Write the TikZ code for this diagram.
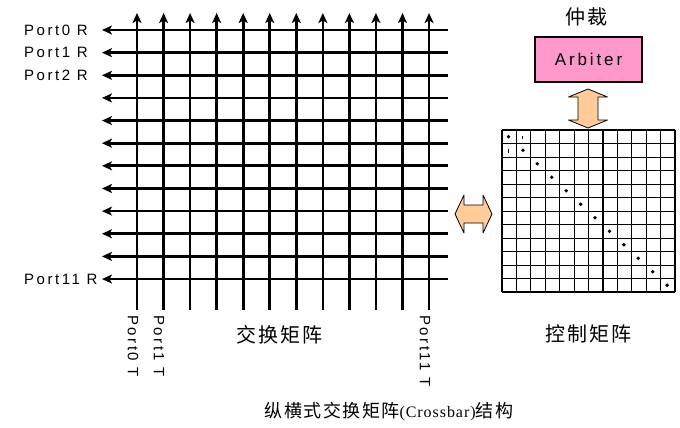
\documentclass[tikz,border=0pt]{standalone}
\usepackage{fontspec}
\setmainfont{Liberation Sans}
\newfontfamily\portfont{Liberation Sans}[LetterSpace=17]
\newfontfamily\cjkwide{Noto Sans CJK SC}[LetterSpace=10]
\newfontfamily\cjkfont{Noto Sans CJK SC}[LetterSpace=8]
\newfontfamily\capfont{Liberation Serif}[LetterSpace=6]
\usepackage{tikz}
\usetikzlibrary{arrows.meta,calc}
\definecolor{ArbiterPink}{RGB}{255,153,204}
\definecolor{LinkPeach} {RGB}{255,204,153}

\begin{document}
\begin{tikzpicture}[x=1pt,y=-1pt,
    bus/.style={line width=2.7pt, -{Stealth[length=10pt,width=9pt,inset=2.5pt]}},
    portlbl/.style={font=\portfont\fontsize{15}{18}\selectfont, inner sep=0pt},
    cjklbl/.style={font=\cjkwide\fontsize{20}{23}\selectfont, inner sep=0pt},
    link/.style={fill=LinkPeach, draw=black, line width=0.8pt, line join=round}]
  \useasboundingbox (0,0) rectangle (680,428);

  % Crossbar rows (receive side)
  \foreach \i in {0,...,11} {
    \coordinate (rE\i) at (448, 30+\i*22.64);
    \coordinate (rW\i) at (102, 30+\i*22.64);
    \draw[bus] (rE\i) -- (rW\i);
  }
  % Crossbar columns (transmit side)
  \foreach \j in {0,...,11} {
    \coordinate (cS\j) at (137+\j*26.55, 310);
    \coordinate (cN\j) at (137+\j*26.55, 13);
    \draw[bus] (cS\j) -- (cN\j);
  }

  % Port labels
  \node[portlbl, anchor=west] (p0r)  at (24, 30)  {Port0 R};
  \node[portlbl, anchor=west] (p1r)  at (24, 52.6) {Port1 R};
  \node[portlbl, anchor=west] (p2r)  at (24, 75.3) {Port2 R};
  \node[portlbl, anchor=west] (p11r) at (24, 279) {Port11 R};
  \node[portlbl, rotate=-90, anchor=west] (p0t)  at (133, 315) {Port0 T};
  \node[portlbl, rotate=-90, anchor=west] (p1t)  at (159, 315) {Port1 T};
  \node[portlbl, rotate=-90, anchor=west] (p11t) at (425, 315) {Port11 T};
  \node[cjklbl] (xbarlbl) at (279, 335) {交换矩阵};

  % Arbiter
  \node[cjklbl] (arblbl) at (586, 17) {仲裁};
  \node[draw, fill=ArbiterPink, line width=1.2pt, minimum width=107pt,
        minimum height=45pt, font=\portfont\fontsize{17}{20}\selectfont]
    (arb) at (588.5, 59.5) {Arbiter};

  % Control matrix
  \node[inner sep=0pt, minimum width=173pt, minimum height=162pt] (ctl) at (588.5, 211) {};
  \foreach \k in {0,...,12} {
    \draw[line width=0.9pt] (502+\k*14.42, 130) -- (502+\k*14.42, 292);
    \draw[line width=0.9pt] (502, 130+\k*13.5) -- (675, 130+\k*13.5);
  }
  \foreach \k in {0,4,7,11,12}
    \draw[line width=1.6pt] (502+\k*14.42, 130) -- (502+\k*14.42, 292);
  \foreach \k in {0,7,9,12}
    \draw[line width=1.6pt] (502, 130+\k*13.5) -- (675, 130+\k*13.5);
  \foreach \k in {0,...,11}
    \fill (502+\k*14.42+6.5, 130+\k*13.5+6.75) circle (1.9pt);
  \draw[line width=1pt] (502+14.42+6.5, 135.5) -- (502+14.42+6.5, 139);
  \draw[line width=1pt] (502+6.5, 149) -- (502+6.5, 152.5);
  \node[cjklbl] (ctllbl) at (588, 334) {控制矩阵};

  % Links
  \filldraw[link] (588,89) -- (607.5,97) -- (598,97) -- (598,120) -- (607.5,120)
    -- (588,128) -- (568.5,120) -- (578,120) -- (578,97) -- (568.5,97) -- cycle;
  \filldraw[link] (455,214) -- (464,195) -- (464,205) -- (483,205) -- (483,195)
    -- (492,214) -- (483,233) -- (483,223) -- (464,223) -- (464,233) -- cycle;

  % Caption
  \node[inner sep=0pt] (caption) at (389, 412)
    {\cjkfont\fontsize{18}{21}\selectfont 纵横式交换矩阵%
     {\capfont\fontsize{16}{19}\selectfont (Crossbar)}结构};
\end{tikzpicture}
\end{document}
